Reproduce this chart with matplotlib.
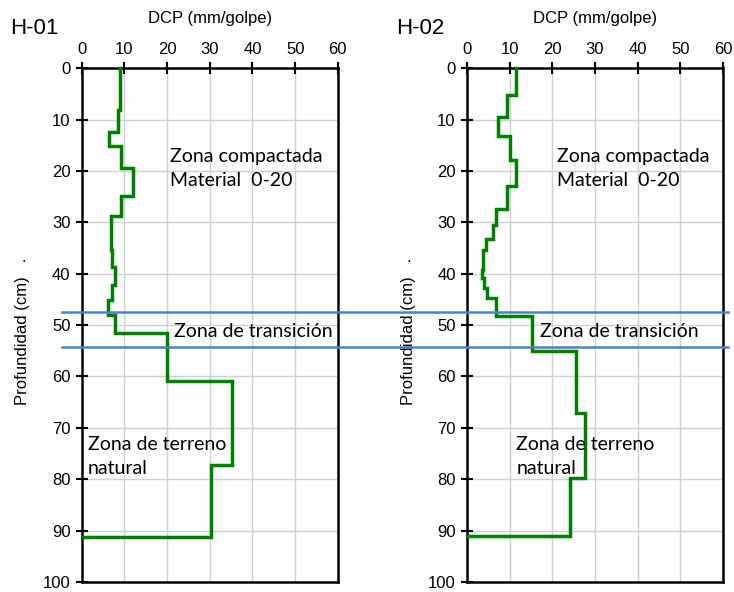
import matplotlib.pyplot as plt
import matplotlib.transforms as mtransforms

# H-01: DCP value per depth segment (depth tops, value)
h01_depth = [0, 8.2, 12.4, 15.2, 19.4, 24.9, 28.8, 35.3, 38.7, 42.2, 45.1, 48.1, 51.6, 60.8, 77.2, 91.3]
h01_dcp = [9.0, 8.6, 6.5, 9.2, 12.1, 9.2, 6.9, 7.2, 7.9, 7.2, 6.1, 7.8, 20.0, 35.3, 30.2, 0.3]

# H-02
h02_depth = [0, 5.3, 9.6, 13.2, 17.8, 23.0, 27.5, 30.5, 33.3, 35.4, 39.2, 40.9, 42.7, 44.8, 48.2, 55.1, 67.2, 79.8, 91.0]
h02_dcp = [11.6, 9.4, 7.4, 10.2, 11.6, 9.5, 6.9, 6.1, 4.5, 3.9, 3.6, 4.1, 4.7, 6.9, 15.2, 25.6, 27.7, 24.2, 0.3]

zone_limits = [47.5, 54.2]
xticks = [0, 10, 20, 30, 40, 50, 60]
yticks = [0, 10, 20, 30, 40, 50, 60, 70, 80, 90, 100]

# text positions (x, y) per panel
panels = [
    ("H-01", h01_depth, h01_dcp, [(20.7, 19.5), (21.6, 51.3), (1.5, 75.5)]),
    ("H-02", h02_depth, h02_dcp, [(21.2, 19.5), (17.2, 51.3), (11.6, 75.5)]),
]

zone_font = "Lato"
tick_font = "Liberation Sans"

fig = plt.figure(figsize=(7.34, 5.92), dpi=100)
lefts = [0.1113, 0.636]
axes = []
for left, (name, depth, dcp, tpos) in zip(lefts, panels):
    ax = fig.add_axes([left, 0.0169, 0.349, 0.868])
    axes.append(ax)
    # step line: vertical segment at each value, horizontal jumps between
    ys = []
    xs = []
    for i in range(len(dcp)):
        xs += [dcp[i]]
        ys += [depth[i]]
        if i + 1 < len(dcp):
            xs += [dcp[i]]
            ys += [depth[i + 1]]
    ax.plot(xs, ys, color="#008000", lw=2.5, solid_joinstyle="miter", zorder=3, clip_on=False)

    ax.set_xlim(0, 60)
    ax.set_ylim(100, 0)
    ax.xaxis.tick_top()
    ax.xaxis.set_label_position("top")
    ax.set_xticks(xticks)
    ax.set_yticks(yticks)
    ax.grid(True, color="#d0d0d0", lw=1)
    ax.set_axisbelow(True)
    for s in ["top", "bottom", "left", "right"]:
        ax.spines[s].set_linewidth(1.8)
    ax.tick_params(direction="inout", length=8, width=1.5, labelsize=12, pad=4)
    for lab in ax.get_xticklabels() + ax.get_yticklabels():
        lab.set_fontfamily(tick_font)
    ax.set_xlabel("DCP (mm/golpe)", fontsize=12, family=tick_font, labelpad=14)
    ax.set_ylabel("Profundidad (cm)", fontsize=12, family=tick_font)
    ax.yaxis.set_label_coords(-0.20, 0.47)
    ax.text(-0.225, 0.622, ".", transform=ax.transAxes, fontsize=12, family=tick_font,
            ha="center", va="baseline")

    ax.text(tpos[0][0], tpos[0][1], "Zona compactada\nMaterial  0-20", fontsize=14,
            family=zone_font, va="center", ha="left", linespacing=1.5)
    ax.text(tpos[1][0], tpos[1][1], "Zona de transición", fontsize=14,
            family=zone_font, va="center", ha="left")
    ax.text(tpos[2][0], tpos[2][1], "Zona de terreno\nnatural", fontsize=14,
            family=zone_font, va="center", ha="left", linespacing=1.5)

    fig.text(left - 0.097, 0.952, name, fontsize=16, family=tick_font, va="center")

# blue zone limits spanning both panels
trans = mtransforms.blended_transform_factory(fig.transFigure, axes[0].transData)
for y in zone_limits:
    fig.add_artist(plt.Line2D([0.084, 0.992], [y, y], transform=trans, color="#4f81bd", lw=1.8, zorder=5))

fig.savefig("out.png", dpi=100)
